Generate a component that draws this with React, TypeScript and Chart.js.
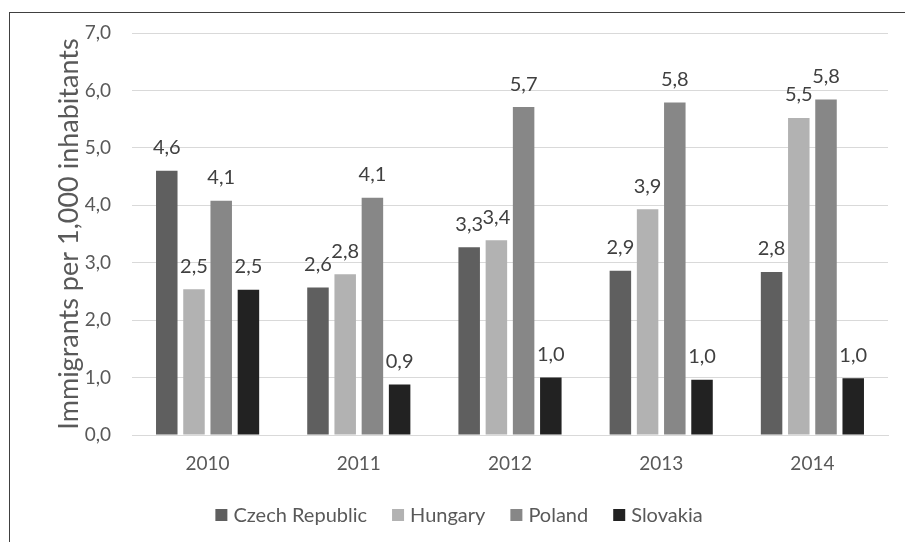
import { useEffect, useRef } from "react";
import { Chart, registerables } from "chart.js";

Chart.register(...registerables);

const categories = ["2010", "2011", "2012", "2013", "2014"];
const seriesNames = ["Czech Republic", "Hungary", "Poland", "Slovakia"];
const czechRepublic = [4.6, 2.57, 3.27, 2.86, 2.84];
const hungary = [2.54, 2.8, 3.39, 3.93, 5.52];
const poland = [4.08, 4.13, 5.71, 5.79, 5.84];
const slovakia = [2.53, 0.88, 1.0, 0.96, 0.99];
const seriesColors = ["#5f5f5f", "#b2b2b2", "#878787", "#222222"];
const yTitle = "Immigrants per 1,000 inhabitants";

const FONT = "Lato, 'Open Sans', sans-serif";
const TEXT = "#595959";
const fmt = (v: number) => v.toFixed(1).replace(".", ",");

const dataLabels = {
  id: "dataLabels",
  afterDatasetsDraw(chart: any) {
    const ctx = chart.ctx;
    ctx.save();
    ctx.font = `20px ${FONT}`;
    ctx.fillStyle = "#404040";
    ctx.textAlign = "center";
    ctx.textBaseline = "middle";
    chart.data.datasets.forEach((ds: any, i: number) => {
      const meta = chart.getDatasetMeta(i);
      meta.data.forEach((el: any, j: number) => {
        ctx.fillText(fmt(ds.data[j]), el.x, el.y - 23);
      });
    });
    ctx.restore();
  },
};

const bottomLegend = {
  id: "bottomLegend",
  afterDraw(chart: any) {
    const ctx = chart.ctx;
    ctx.save();
    ctx.font = `20px ${FONT}`;
    ctx.textBaseline = "middle";
    ctx.textAlign = "left";
    const box = 12;
    const boxGap = 6;
    const itemGap = 25;
    const items = chart.data.datasets.map((ds: any) => ({
      text: ds.label,
      color: ds.backgroundColor,
      w: box + boxGap + ctx.measureText(ds.label).width,
    }));
    const total = items.reduce((a: number, it: any) => a + it.w, 0) + itemGap * (items.length - 1);
    let x = 459 - total / 2;
    const cy = 516;
    items.forEach((it: any) => {
      ctx.fillStyle = it.color;
      ctx.fillRect(x, cy - 7, box, box);
      ctx.fillStyle = TEXT;
      ctx.fillText(it.text, x + box + boxGap, cy);
      x += it.w + itemGap;
    });
    ctx.restore();
  },
};

export default function App() {
  const ref = useRef<HTMLCanvasElement>(null);
  useEffect(() => {
    if (!ref.current) return;
    const all = [czechRepublic, hungary, poland, slovakia];
    const chart = new Chart(ref.current, {
      type: "bar",
      data: {
        labels: categories,
        datasets: all.map((d, i) => ({
          label: seriesNames[i],
          data: d,
          backgroundColor: seriesColors[i],
          borderWidth: 0,
          barPercentage: 0.79,
          categoryPercentage: 0.72,
        })),
      },
      options: {
        responsive: false,
        animation: false,
        layout: { padding: { left: 10, top: 33, right: 17, bottom: 67 } },
        plugins: {
          tooltip: { enabled: false },
          legend: { display: false },
        },
        scales: {
          x: {
            grid: { display: false },
            border: { display: true, color: "#d9d9d9", width: 1 },
            ticks: { color: TEXT, font: { family: FONT, size: 19 }, padding: 9 },
            afterFit: (s: any) => {
              s.height = 40;
            },
          },
          y: {
            min: 0,
            max: 7,
            ticks: {
              stepSize: 1,
              color: TEXT,
              font: { family: FONT, size: 19 },
              padding: 21,
              callback: (v: any) => fmt(Number(v)),
            },
            grid: { color: "#d9d9d9", lineWidth: 1, drawTicks: false },
            border: { display: false },
            title: {
              display: true,
              text: yTitle,
              color: TEXT,
              font: { family: FONT, size: 27 },
              padding: { top: 43, bottom: 0 },
            },
            afterFit: (s: any) => {
              s.width = 122;
            },
          },
        },
      },
      plugins: [dataLabels, bottomLegend],
    });
    return () => chart.destroy();
  }, []);

  return (
    <div style={{ position: "absolute", left: 0, top: 0, width: 905, height: 542, background: "#fff", overflow: "hidden" }}>
      <canvas ref={ref} width={905} height={542} style={{ position: "absolute", left: 0, top: 0 }} />
      <div
        style={{
          position: "absolute",
          left: 9,
          top: 12,
          width: 1000,
          height: 1000,
          borderTop: "1px solid #404040",
          borderLeft: "1px solid #404040",
          pointerEvents: "none",
        }}
      />
    </div>
  );
}
